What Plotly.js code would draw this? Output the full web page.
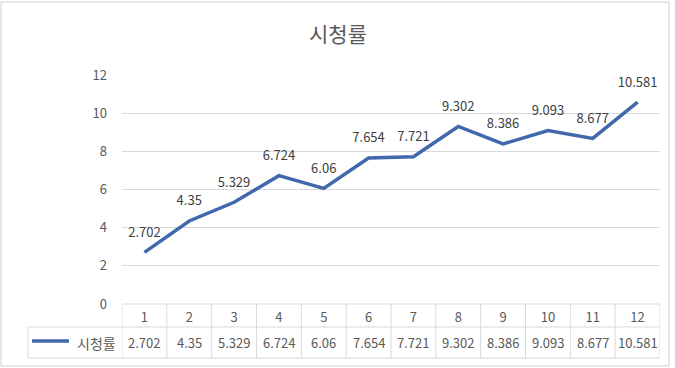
<!DOCTYPE html>
<html>
<head>
<meta charset="utf-8">
<script src="https://cdn.plot.ly/plotly-3.0.1.min.js"></script>
<style>html,body{margin:0;padding:0;background:#fff;}#chart{width:675px;height:368px;}</style>
</head>
<body>
<div id="chart"></div>
<script>
const chartTitle = "시청률";
const seriesName = "시청률";
const episodes = [1, 2, 3, 4, 5, 6, 7, 8, 9, 10, 11, 12];
const ratings = [2.702, 4.35, 5.329, 6.724, 6.06, 7.654, 7.721, 9.302, 8.386, 9.093, 8.677, 10.581];
const yTicks = [0, 2, 4, 6, 8, 10, 12];

const FONT = '"Noto Sans CJK KR", "Noto Sans", sans-serif';
const GREY = '#595959';
const LINE = '#d9d9d9';
const BLUE = '#4168AC';

// plot area in pixels: x 122..660, y 75..304
const plotTop = 75, plotBottom = 304, plotLeft = 122, plotRight = 660;
const pyToPaper = py => (plotBottom - py) / (plotBottom - plotTop);
const pxToPaper = px => (px - plotLeft) / (plotRight - plotLeft);

const rowMid = 327, tableBottom = 358, tableLeft = 28;

const trace = {
  x: episodes,
  y: ratings,
  mode: 'lines+markers+text',
  line: {color: BLUE, width: 3.5},
  marker: {size: 18, color: 'rgba(0,0,0,0)'},
  text: ratings.map(String),
  textposition: 'top center',
  textfont: {family: FONT, size: 13, color: '#404040'},
  hoverinfo: 'skip',
  showlegend: false,
  cliponaxis: false
};

const shapes = [];
// table horizontal lines
shapes.push({type: 'line', xref: 'paper', yref: 'paper', x0: pxToPaper(tableLeft), x1: 1, y0: pyToPaper(rowMid), y1: pyToPaper(rowMid), line: {color: LINE, width: 1}});
shapes.push({type: 'line', xref: 'paper', yref: 'paper', x0: pxToPaper(tableLeft), x1: 1, y0: pyToPaper(tableBottom), y1: pyToPaper(tableBottom), line: {color: LINE, width: 1}});
shapes.push({type: 'line', xref: 'paper', yref: 'paper', x0: 0, x1: 1, y0: 0, y1: 0, line: {color: LINE, width: 1}});
// left border of table
shapes.push({type: 'line', xref: 'paper', yref: 'paper', x0: pxToPaper(tableLeft), x1: pxToPaper(tableLeft), y0: pyToPaper(rowMid), y1: pyToPaper(tableBottom), line: {color: LINE, width: 1}});
// column boundaries
for (let i = 0; i <= episodes.length; i++) {
  shapes.push({type: 'line', xref: 'x', yref: 'paper', x0: i + 0.5, x1: i + 0.5, y0: 0, y1: pyToPaper(tableBottom), line: {color: LINE, width: 1}});
}
// legend key
shapes.push({type: 'line', xref: 'paper', yref: 'paper', x0: pxToPaper(32), x1: pxToPaper(69), y0: pyToPaper(341), y1: pyToPaper(341), line: {color: BLUE, width: 3.5}});
// outer chart border
shapes.push({type: 'rect', xref: 'paper', yref: 'paper', x0: pxToPaper(1), x1: pxToPaper(669), y0: pyToPaper(366), y1: pyToPaper(2), line: {color: '#d0d0d0', width: 1}});

const annotations = [];
const valueRowY = pyToPaper((rowMid + tableBottom) / 2);
ratings.forEach((v, i) => {
  annotations.push({x: episodes[i], y: valueRowY, xref: 'x', yref: 'paper', text: String(v), showarrow: false, font: {family: FONT, size: 13, color: GREY}, xanchor: 'center', yanchor: 'middle'});
});
annotations.push({x: pxToPaper(96), y: valueRowY, xref: 'paper', yref: 'paper', text: seriesName, showarrow: false, font: {family: FONT, size: 14, color: GREY}, xanchor: 'center', yanchor: 'middle'});

const layout = {
  width: 675,
  height: 368,
  paper_bgcolor: '#ffffff',
  plot_bgcolor: '#ffffff',
  margin: {l: plotLeft, r: 675 - plotRight, t: plotTop, b: 368 - plotBottom},
  title: {text: chartTitle, x: 338 / 675, xref: 'container', xanchor: 'center', y: 1 - 35 / 368, yref: 'container', yanchor: 'middle', font: {family: FONT, size: 21, color: GREY}},
  xaxis: {
    range: [0.5, 12.5],
    tickvals: episodes,
    ticktext: episodes.map(String),
    showgrid: false,
    zeroline: false,
    showline: false,
    ticks: '',
    ticklabelstandoff: 4,
    tickfont: {family: FONT, size: 13, color: GREY},
    fixedrange: true
  },
  yaxis: {
    range: [0, 12],
    tickvals: yTicks,
    showgrid: true,
    gridcolor: LINE,
    gridwidth: 1,
    zeroline: false,
    showline: false,
    ticks: '',
    ticklabelstandoff: 14,
    tickfont: {family: FONT, size: 13, color: GREY},
    fixedrange: true
  },
  shapes: shapes,
  annotations: annotations,
  showlegend: false
};

Plotly.newPlot('chart', [trace], layout, {displayModeBar: false, staticPlot: true});
</script>
</body>
</html>
